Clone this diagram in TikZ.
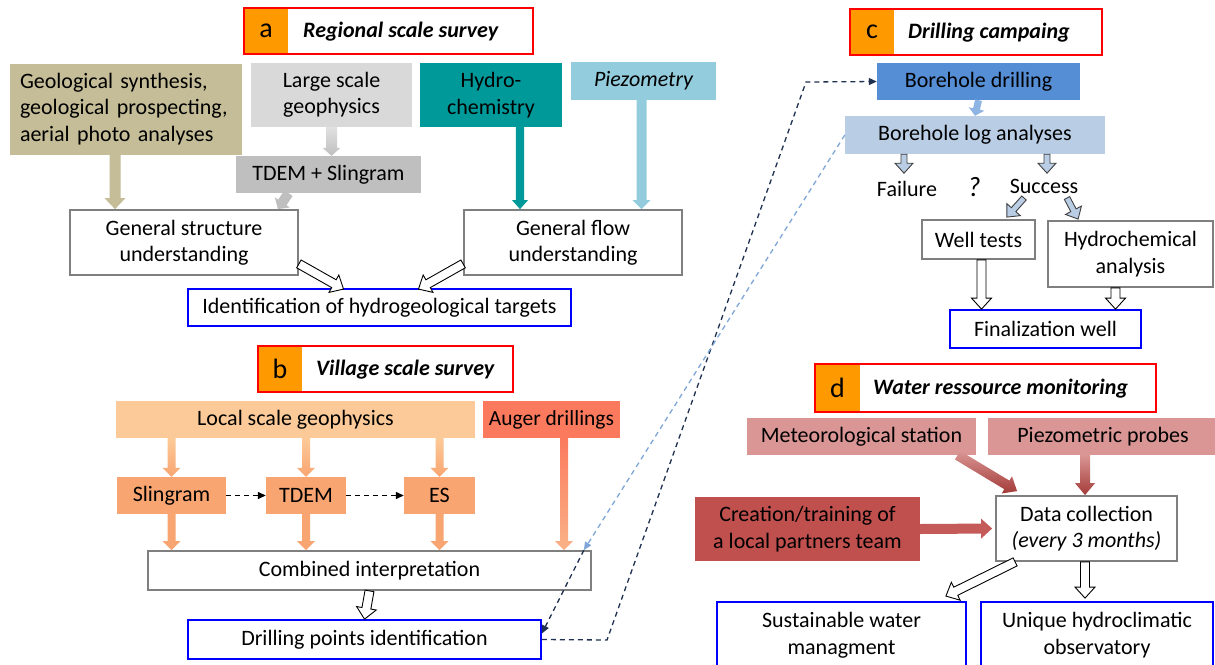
\documentclass[tikz,border=0pt]{standalone}
\usepackage{fontspec}
\setmainfont{Carlito}
\usetikzlibrary{calc,arrows.meta}
\definecolor{tan}{HTML}{C4BD97}
\definecolor{lgray}{HTML}{D9D9D9}
\definecolor{mgray}{HTML}{BFBFBF}
\definecolor{teal}{HTML}{00999A}
\definecolor{piezc}{HTML}{93CDDD}
\definecolor{boxgray}{HTML}{7F7F7F}
\definecolor{hdrorange}{HTML}{FF9900}
\definecolor{lpeach}{HTML}{FCCA98}
\definecolor{mpeach}{HTML}{F9A571}
\definecolor{salmon}{HTML}{FB7A5E}
\definecolor{bdblue}{HTML}{558ED5}
\definecolor{logblue}{HTML}{B9CDE5}
\definecolor{smarrow}{HTML}{8EB4E3}
\definecolor{rose}{HTML}{D99694}
\definecolor{brick}{HTML}{C0504D}
\definecolor{darkred}{HTML}{A33B38}
\definecolor{navyd}{HTML}{1F3050}
\definecolor{lbdash}{HTML}{7FA6D8}
\newcommand\barrow[6][]{%
  \coordinate (bs) at (#2); \coordinate (be) at (#3);
  \coordinate (bh) at ($(be)!#6!(bs)$);
  \path[#1] ($(bs)!#4!90:(be)$) -- ($(bh)!#4!-90:(bs)$) -- ($(bh)!#5!-90:(bs)$) -- (be)
    -- ($(bh)!#5!90:(bs)$) -- ($(bh)!#4!90:(bs)$) -- ($(bs)!#4!-90:(be)$) -- cycle;}
\tikzset{
  base/.style={inner sep=0pt, align=center, font=\fontsize{22}{26.5}\selectfont, text=black},
  fillbox/.style={base, fill=#1, draw=none},
  graybox/.style={base, draw=boxgray, line width=1.8pt, fill=white},
  bluebox/.style={base, draw=blue, line width=1.8pt, fill=white},
  hdrframe/.style={draw=red, line width=1.8pt, inner sep=0pt},
  hdrletter/.style={fill=hdrorange, inner sep=0pt, font=\fontsize{28}{30}\selectfont},
  hdrtitle/.style={font=\fontsize{22}{24}\selectfont\bfseries\itshape, anchor=west, inner sep=0pt},
  sz/.style 2 args={minimum width=#1, minimum height=#2},
  hollow/.style={fill=white, draw=black, line width=0.9pt},
  hollowb/.style={fill=logblue, draw=black!75, line width=0.9pt},
  dsh/.style={dash pattern=on 5pt off 4pt, line width=1.3pt},
  tip/.style={-{Triangle[length=8pt,width=7pt]}}
}
\begin{document}
\begin{tikzpicture}[x=1pt,y=-1pt]
\useasboundingbox (0,0) rectangle (1215,664);
\clip (0,0) rectangle (1215,664);
\fill[white] (0,0) rectangle (1215,664);

% ---------- a ----------
\node[hdrletter, sz={44pt}{46pt}] (la) at (266,31) {a};
\node[hdrframe, sz={289pt}{46pt}] (ha) at (388.5,31) {};
\node[hdrtitle] (ta) at (303,32) {Regional scale survey};

\node[fillbox=tan, sz={232pt}{91pt}, text width=212pt, align=left] (geo) at (126,109)
  {Geological synthesis,\\geological prospecting,\\aerial photo analyses};
\node[fillbox=lgray, sz={161pt}{64pt}] (lsg) at (331.5,95) {Large scale\\geophysics};
\node[fillbox=teal, sz={142pt}{64pt}] (hyd) at (491,95) {Hydro-\\chemistry};
\node[fillbox=piezc, sz={145pt}{38pt}] (piez) at (643.5,81) {\itshape Piezometry};
\node[fillbox=mgray, sz={185pt}{37pt}] (tdem) at (328.5,174.5) {TDEM + Slingram};
\node[graybox, sz={228pt}{65pt}] (gsu) at (184,242.5) {General structure\\understanding};
\node[graybox, sz={218pt}{65pt}] (gfu) at (573,242.5) {General flow\\understanding};
\node[bluebox, sz={383pt}{37pt}] (iht) at (379.5,307.5) {Identification of hydrogeological targets};

\barrow[fill=tan]{[xshift=-11pt]geo.south}{[xshift=-11pt]geo.south |- gsu.north}{5.5pt}{10.5pt}{11pt}
\barrow[top color=lgray!80, bottom color=mgray]{lsg.south}{lsg.south |- tdem.north}{5.5pt}{9pt}{8pt}
\barrow[fill=mgray]{[xshift=-40pt]tdem.south}{[xshift=-21pt]gsu.north east}{5pt}{9pt}{8pt}
\barrow[fill=teal]{[xshift=29pt]hyd.south}{[xshift=29pt]hyd.south |- gfu.north}{4.2pt}{8pt}{9pt}
\barrow[fill=piezc]{[xshift=-2pt]piez.south}{[xshift=-2pt]piez.south |- gfu.north}{5pt}{9pt}{9pt}
\barrow[hollow]{[yshift=12pt]gsu.south east}{[xshift=-36pt,yshift=-1pt]iht.north}{4.5pt}{10pt}{11pt}
\barrow[hollow]{[yshift=12pt]gfu.south west}{[xshift=39pt,yshift=-1pt]iht.north}{4.5pt}{10pt}{11pt}

% ---------- b ----------
\node[hdrletter, sz={44pt}{46pt}] (lb) at (280,369) {b};
\node[hdrframe, sz={255pt}{46pt}] (hb) at (385.5,369) {};
\node[hdrtitle] (tb) at (316,370) {Village scale survey};

\node[fillbox=lpeach, sz={359pt}{37pt}] (lgeo) at (295.5,419.5) {Local scale geophysics};
\node[fillbox=salmon, sz={137pt}{37pt}, font=\fontsize{21.5}{24}\selectfont] (aug) at (551.5,419.5) {Auger drillings};
\node[fillbox=mpeach, sz={109pt}{37pt}] (sling) at (171.5,495.5) {Slingram};
\node[fillbox=mpeach, sz={80pt}{37pt}] (tdemb) at (306,495.5) {TDEM};
\node[fillbox=mpeach, sz={71pt}{37pt}] (es) at (439.5,495.5) {ES};
\node[graybox, sz={443pt}{39pt}] (comb) at (369.5,570.5) {Combined interpretation};
\node[bluebox, sz={353pt}{39pt}] (drill) at (364.5,639.5) {Drilling points identification};

\foreach \n in {sling,tdemb,es}{
  \barrow[top color=lpeach, bottom color=mpeach]{\n.north |- lgeo.south}{\n.north}{4pt}{9pt}{9pt}
  \barrow[fill=mpeach]{\n.south}{\n.south |- comb.north}{4pt}{9pt}{9pt}
}
\barrow[top color=salmon, middle color=salmon, bottom color=mpeach!85]{[xshift=12.5pt]aug.south}{[xshift=12.5pt]aug.south |- comb.north}{4pt}{9pt}{9pt}
\draw[dsh, tip, black] (sling.east) -- (tdemb.west);
\draw[dsh, tip, black] (tdemb.east) -- (es.west);
\barrow[hollow]{comb.south}{drill.north}{4.5pt}{10pt}{11pt}

% ---------- c ----------
\node[hdrletter, sz={44pt}{46pt}] (lc) at (872,32) {c};
\node[hdrframe, sz={252pt}{46pt}] (hc) at (976,32) {};
\node[hdrtitle] (tc) at (908,33) {Drilling campaing};

\node[fillbox=bdblue, sz={203pt}{37pt}] (bd) at (978.5,81.5) {Borehole drilling};
\node[fillbox=logblue, sz={260pt}{38pt}] (log) at (975,135) {Borehole log analyses};
\node[base] (fail) at (907,189) {Failure};
\node[base, font=\fontsize{28}{30}\selectfont\itshape] (qm) at (974,187) {?};
\node[base] (succ) at (1044,186) {Success};
\node[graybox, sz={113pt}{39pt}] (wt) at (978.5,239.5) {Well tests};
\node[graybox, sz={165pt}{66pt}] (hca) at (1130.5,254) {Hydrochemical\\analysis};
\node[bluebox, sz={191pt}{38pt}] (fw) at (1045.5,329) {Finalization well};

\barrow[fill=smarrow]{bd.south}{log.north}{3.5pt}{8pt}{7pt}
\barrow[hollowb]{[xshift=-71pt]log.south}{[xshift=-71pt,yshift=-19pt]log.south}{3pt}{9pt}{10pt}
\barrow[hollowb]{[xshift=72pt]log.south}{[xshift=72pt,yshift=-19pt]log.south}{3pt}{9pt}{10pt}
\barrow[hollowb]{[xshift=-20pt,yshift=-12pt]succ.center}{[xshift=-29pt,yshift=2pt]wt.north east}{3pt}{9pt}{10pt}
\barrow[hollowb]{[xshift=23pt,yshift=-12pt]succ.center}{[xshift=31pt,yshift=1pt]hca.north west}{3pt}{9pt}{10pt}
\barrow[hollow]{[xshift=3pt]wt.south}{[xshift=3pt]wt.south |- fw.north}{4.5pt}{10pt}{11pt}
\barrow[hollow]{[xshift=-15pt]hca.south}{[xshift=-15pt]hca.south |- fw.north}{4.5pt}{10pt}{11pt}

% ---------- d ----------
\node[hdrletter, sz={45pt}{48pt}] (ld) at (837.5,388) {d};
\node[hdrframe, sz={341pt}{48pt}] (hd) at (985.5,388) {};
\node[hdrtitle] (td) at (873,389) {Water ressource monitoring};

\node[fillbox=rose, sz={229pt}{37pt}] (meteo) at (861.5,436.5) {Meteorological station};
\node[fillbox=rose, sz={230pt}{37pt}] (ppr) at (1103,436.5) {Piezometric probes};
\node[fillbox=brick, sz={225pt}{64pt}] (cr) at (807.5,529) {Creation/training of\\a local partners team};
\node[graybox, sz={181pt}{65pt}] (dc) at (1086.5,528.5) {Data collection\\\itshape(every 3 months)};
\node[bluebox, sz={249pt}{66pt}] (sus) at (841.5,635) {Sustainable water\\managment};
\node[bluebox, sz={232pt}{66pt}] (uniq) at (1097,635) {Unique hydroclimatic\\observatory};

\barrow[top color=rose, bottom color=darkred]{[xshift=96pt]meteo.south}{[xshift=22pt,yshift=4pt]dc.north west}{5pt}{10pt}{12pt}
\barrow[top color=rose, bottom color=darkred]{[xshift=-18pt]ppr.south}{[xshift=-18pt]ppr.south |- dc.north}{5pt}{10pt}{12pt}
\barrow[fill=brick!85!rose]{cr.east}{[xshift=-3pt]dc.west}{5pt}{10pt}{11pt}
\barrow[hollow]{[xshift=20pt]dc.south west}{[xshift=-21pt,yshift=5pt]sus.north east}{4.5pt}{10pt}{11pt}
\barrow[hollow]{[xshift=-1.5pt]dc.south}{[xshift=-1.5pt,yshift=3pt]dc.south |- uniq.north}{4.5pt}{10pt}{11pt}

% ---------- dashed links ----------
\coordinate (k1) at (607,640);
\coordinate (k2) at (806,82);
\draw[dsh, tip, navyd] (drill.east) -- (k1) -- (k2) -- (bd.west);
\draw[dsh, tip, lbdash] (log.west) -- ([xshift=-8pt]comb.north east);
\draw[dsh, tip, navyd] ([xshift=-8pt]comb.north east) -- ([yshift=6pt]drill.east);
\end{tikzpicture}
\end{document}
